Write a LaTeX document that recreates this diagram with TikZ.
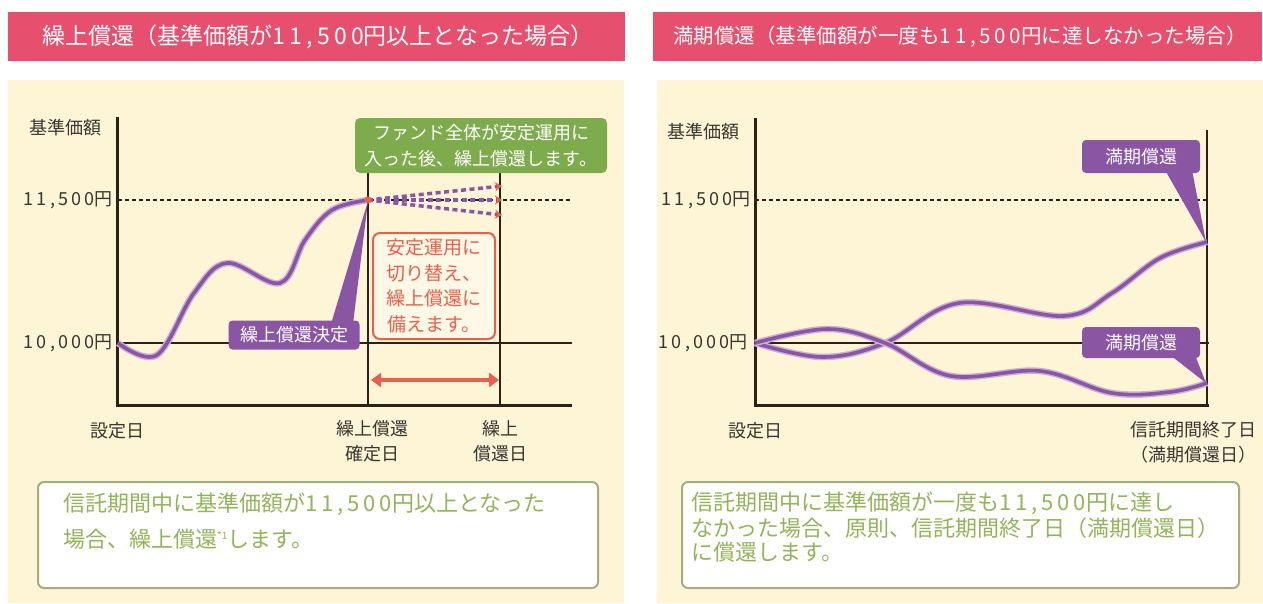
\documentclass[tikz,border=0pt]{standalone}
\usepackage{fontspec}
\setmainfont{Noto Sans CJK JP}
\newfontfamily\digf[LetterSpace=18]{Noto Sans CJK JP}
\usetikzlibrary{arrows.meta}
\definecolor{hdr}{HTML}{E6506E}
\definecolor{cream}{HTML}{FDF5D6}
\definecolor{purp}{HTML}{8A55A3}
\definecolor{lav}{HTML}{CDB0DA}
\definecolor{grn}{HTML}{7EAC4C}
\definecolor{ored}{HTML}{E8604C}
\definecolor{axisc}{HTML}{2A2119}
\definecolor{lblc}{HTML}{3A3530}
\definecolor{boxline}{HTML}{A3AE7E}
\definecolor{txtgrn}{HTML}{94B35A}
\newcommand\dg[1]{{\digf #1}}
\begin{document}
\begin{tikzpicture}[x=1pt,y=-1pt,
  hdrL/.style={text=white,inner sep=0,font=\fontsize{23}{26}\selectfont},
  hdrR/.style={text=white,inner sep=0,font=\fontsize{20.5}{24}\selectfont},
  lbl/.style={text=lblc,inner sep=0,font=\fontsize{18}{25}\selectfont,align=center},
  boxtxt/.style={text=txtgrn,inner sep=0,anchor=west,font=\fontsize{22}{26}\selectfont},
  call/.style={fill=purp,rounded corners=4pt,text=white,inner sep=0,font=\fontsize{18}{22}\selectfont},
  curve/.style={purp,line width=3.6pt,preaction={draw=lav,line width=6.5pt}},
  axisline/.style={axisc,line width=3pt},
  thin/.style={axisc,line width=1.3pt},
  dashl/.style={axisc,line width=1.3pt,dash pattern=on 4pt off 3pt},
  parr/.style={purp,line width=3.5pt,dash pattern=on 5pt off 3.5pt,-{Stealth[length=7pt,width=9pt,color=ored]}},
  textbox/.style={draw=boxline,line width=2pt,fill=white,rounded corners=6pt}
]
\useasboundingbox (0,0) rectangle (1263,603);
\fill[white] (0,0) rectangle (1263,603);
% headers
\fill[hdr] (8,12) rectangle (625,61);
\node[hdrL] (h1) at (318,37) {繰上償還（基準価額が\dg{11,500}円以上となった場合）};
\fill[hdr] (653,12) rectangle (1262,61);
\node[hdrR] (h2) at (960,37) {満期償還（基準価額が一度も\dg{11,500}円に達しなかった場合）};
% cream panels
\fill[cream] (8,80) rectangle (624,603);
\fill[cream] (657,80) rectangle (1263,603);

% ===== LEFT CHART =====
\draw[dashl] (118,200) -- (572,200);
\draw[thin] (118,343) -- (572,343);
\draw[thin] (368,173) -- (368,405);
\draw[thin] (500,173) -- (500,405);
\draw[axisline] (117,117) -- (117,406.5);
\draw[axisline] (115.5,405) -- (572,405);
\node[lbl] (yl1) at (65,128) {基準価額};
\node[lbl,anchor=east] (v1a) at (113,200) {\dg{11,500}円};
\node[lbl,anchor=east] (v1b) at (113,343) {\dg{10,000}円};
\node[lbl] (x1a) at (117,431) {設定日};
\node[lbl] (x1b) at (372,441) {繰上償還\\確定日};
\node[lbl] (x1c) at (500,441) {繰上\\償還日};
% curve
\draw[curve] plot[smooth,tension=0.6] coordinates {(118,343) (157,355) (194,293) (227,263) (280,283) (305,240) (332,210) (368,200)};
% dashed arrows
\draw[parr] (368,200) -- (502,186);
\draw[parr] (368,200) -- (502,200);
\draw[parr] (368,200) -- (502,215);
\fill[ored] (368,200) circle (3.5);
% green box
\node[fill=grn,rounded corners=5pt,text=white,minimum width=252pt,minimum height=55pt,inner sep=0,align=center,font=\fontsize{18}{26}\selectfont] (g1) at (481,145.5) {ファンド全体が安定運用に\\入った後、繰上償還します。};
% red box
\node[draw=ored,line width=2pt,fill=cream!60!white,rounded corners=7pt,text=ored,minimum width=122pt,minimum height=106pt,inner sep=0,align=center,font=\fontsize{19}{25.5}\selectfont] (r1) at (434,286) {安定運用に\\切り替え、\\繰上償還に\\備えます。};
% red double arrow
\draw[ored,line width=4pt,{Triangle[length=10pt,width=14pt]}-{Triangle[length=10pt,width=14pt]}] (371,380) -- (499,380);
% callout
\fill[purp] (331,324) -- (353,324) -- (368,201) -- cycle;
\node[call,minimum width=131pt,minimum height=29pt] (c1) at (294,335) {繰上償還決定};
% text box
\draw[textbox] (38,482) rectangle (598,588);
\node[boxtxt] (t1a) at (63,504) {信託期間中に基準価額が\dg{11,500}円以上となった};
\node[boxtxt] (t1b) at (63,539) {場合、繰上償還\textsuperscript{\fontsize{10}{10}\selectfont *1}します。};

% ===== RIGHT CHART =====
\draw[dashl] (755,200) -- (1207,200);
\draw[thin] (755,343) -- (1209,343);
\draw[thin] (1207,130) -- (1207,405);
\draw[axisline] (755,118) -- (755,406.5);
\draw[axisline] (753.5,405) -- (1209,405);
\node[lbl] (yl2) at (703,132) {基準価額};
\node[lbl,anchor=east] (v2a) at (751,200) {\dg{11,500}円};
\node[lbl,anchor=east] (v2b) at (748,343) {\dg{10,000}円};
\node[lbl] (x2a) at (755,431) {設定日};
\node[lbl] (x2b) at (1193,442) {信託期間終了日\\（満期償還日）};
% curves
\draw[curve] plot[smooth,tension=0.6] coordinates {(755,343) (822,357) (885,343) (959,303) (1064,316) (1112,293) (1160,258) (1207,242)};
\draw[curve] plot[smooth,tension=0.6] coordinates {(755,343) (827,329) (885,343) (951,376) (1040,371) (1112,393) (1170,392) (1207,383)};
% callouts
\fill[purp] (1165,170) -- (1192,170) -- (1206,242) -- cycle;
\node[call,minimum width=118pt,minimum height=33pt] (c2) at (1141,156.5) {満期償還};
\fill[purp] (1170,355) -- (1195,355) -- (1206,383) -- cycle;
\node[call,minimum width=118pt,minimum height=31pt] (c3) at (1141,342.5) {満期償還};
% text box
\draw[textbox] (682,482) rectangle (1239,588);
\node[boxtxt] (t2a) at (691,503) {信託期間中に基準価額が一度も\dg{11,500}円に達し};
\node[boxtxt] (t2b) at (691,528) {なかった場合、原則、信託期間終了日（満期償還日）};
\node[boxtxt] (t2c) at (691,552) {に償還します。};
\end{tikzpicture}
\end{document}
